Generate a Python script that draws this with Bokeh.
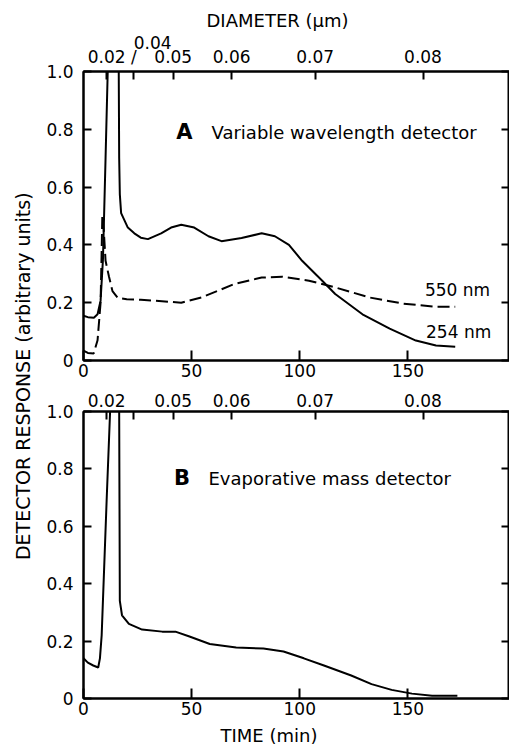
from math import pi
from bokeh.plotting import figure
from bokeh.layouts import row, column
from bokeh.models import LinearAxis, FixedTicker, Title, Range1d
from bokeh.core.properties import value
from bokeh.embed import file_html
from bokeh.resources import INLINE

FONT = "DejaVu Sans"

# ---------------- data ----------------
# Panel A, 254 nm (solid)
a254_time = [0, 2, 4.8, 6.5, 7.9, 9.0, 10.2, 11.2, 11.6, 15.9, 16.3, 16.5, 16.8, 17.4,
             20.5, 23.5, 26.5, 29.8, 35.9, 40.5, 45.2, 51.2, 57.8, 63.8, 73.1, 82.4,
             88.5, 95.0, 101.1, 110.4, 116.4, 129.0, 141.6, 153.7, 163.0, 171.9]
a254_resp = [0.155, 0.150, 0.148, 0.160, 0.207, 0.35, 0.70, 1.00, 1.30, 1.30, 1.00, 0.70,
             0.575, 0.51, 0.46, 0.44, 0.425, 0.42, 0.44, 0.46, 0.47, 0.46, 0.43, 0.413,
             0.424, 0.44, 0.43, 0.40, 0.345, 0.276, 0.23, 0.16, 0.11, 0.069, 0.052, 0.048]

# Panel A, 550 nm (dashed)
a550_time = [0, 2, 4.7, 6.5, 7.9, 8.4, 8.7, 9.3, 10.2, 11.8, 13.4, 15.8, 20.0, 26.5,
             32.6, 45.2, 54.5, 69.9, 82.4, 91.8, 104.3, 116.4, 132.3, 147.6, 163.0, 171.9]
a550_resp = [0.034, 0.026, 0.024, 0.07, 0.20, 0.38, 0.50, 0.46, 0.345, 0.29, 0.24, 0.217,
             0.212, 0.210, 0.207, 0.200, 0.218, 0.265, 0.287, 0.290, 0.276, 0.253, 0.218,
             0.197, 0.186, 0.186]

# Panel B, evaporative mass detector
b_time = [0, 2, 4.5, 6.8, 7.6, 8.4, 10.7, 12.3, 12.6, 16.2, 16.5, 16.8, 17.8, 21.0,
          27.1, 36.4, 42.5, 49.0, 58.4, 70.6, 83.2, 92.5, 101.9, 111.2, 123.8, 133.2,
          142.5, 151.9, 161.2, 172.9]
b_resp = [0.14, 0.125, 0.115, 0.108, 0.14, 0.22, 0.69, 1.00, 1.10, 1.10, 1.00, 0.34,
          0.29, 0.26, 0.24, 0.233, 0.233, 0.216, 0.19, 0.178, 0.174, 0.164, 0.14, 0.115,
          0.08, 0.05, 0.03, 0.017, 0.01, 0.01]

time_ticks = [0, 50, 100, 150]
time_labels = ["0", "50", "100", "150"]
resp_ticks = [0, 0.2, 0.4, 0.6, 0.8, 1.0]
resp_labels = ["0", "0.2", "0.4", "0.6", "0.8", "1.0"]
diam_ticks = [10.7, 23.3, 41.5, 68.5, 107.1, 157.0]
diam_labels_a = ["0.02", "/", "0.05", "0.06", "0.07", "0.08"]
diam_labels_b = ["0.02", "", "0.05", "0.06", "0.07", "0.08"]
# the "0.04" label of panel A sits above the "/" pointer
diam04_pos = [32.0]
diam04_label = ["0.04"]

X_MAX = 197


def axis(ticks, labels, standoff, size="17px", tick_in=8, line=True):
    ax = LinearAxis(ticker=FixedTicker(ticks=ticks, minor_ticks=[]))
    ax.major_label_overrides = {t: l for t, l in zip(ticks, labels)}
    ax.major_tick_in = tick_in
    ax.major_tick_out = 0
    ax.minor_tick_in = 0
    ax.minor_tick_out = 0
    ax.axis_line_width = 2
    ax.axis_line_color = "black" if line else None
    ax.major_tick_line_width = 2
    ax.major_tick_line_color = "black" if line else None
    ax.major_label_text_font = FONT
    ax.major_label_text_font_size = size
    ax.major_label_text_color = "black"
    ax.major_label_standoff = standoff
    return ax


def panel(height, top, bottom, diam_labels):
    p = figure(width=471, height=height, x_range=Range1d(0, X_MAX), y_range=Range1d(0, 1.0),
               output_backend="svg", toolbar_location=None,
               x_axis_location=None, y_axis_location=None,
               min_border_left=45, min_border_right=0,
               min_border_top=top, min_border_bottom=bottom)
    p.grid.visible = False
    p.outline_line_color = "black"
    p.outline_line_width = 2
    p.add_layout(axis(time_ticks, time_labels, 3, tick_in=10), "below")
    p.add_layout(axis(diam_ticks, diam_labels, 5), "above")
    p.add_layout(axis(resp_ticks, resp_labels, 10), "left")
    p.add_layout(axis(resp_ticks, [""] * len(resp_ticks), 0, size="1px"), "right")
    return p


# ---------------- panel A ----------------
pa = panel(385, 71, 25, diam_labels_a)
pa.add_layout(axis(diam04_pos, diam04_label, -5, tick_in=0, line=False), "above")
pa.title = Title(text="DIAMETER  (µm)", align="left", offset=123, text_font=FONT,
                 text_font_size="18px", text_font_style="normal", vertical_align="top",
                 standoff=0, text_color="black")
pa.title_location = "above"
pa.line(a254_time, a254_resp, line_color="black", line_width=2)
pa.line(a550_time, a550_resp, line_color="black", line_width=2, line_dash="12 5")
pa.text(x=[42.9], y=[0.79], text=["A"], text_font=value(FONT), text_font_size="21px",
        text_font_style="bold", text_baseline="middle", text_align="left")
pa.text(x=[59.2], y=[0.79], text=["Variable wavelength detector"], text_font=value(FONT),
        text_font_size="18px", text_baseline="middle", text_align="left")
pa.text(x=[157.9], y=[0.245], text=["550 nm"], text_font=value(FONT), text_font_size="17px",
        text_baseline="middle", text_align="left")
pa.text(x=[158.4], y=[0.097], text=["254 nm"], text_font=value(FONT), text_font_size="17px",
        text_baseline="middle", text_align="left")

# ---------------- panel B ----------------
pb = panel(365, 26, 52, diam_labels_b)
pb.title = Title(text="TIME  (min)", align="left", offset=137, text_font=FONT,
                 text_font_size="18px", text_font_style="normal", vertical_align="bottom",
                 standoff=10, text_color="black")
pb.title_location = "below"
pb.line(b_time, b_resp, line_color="black", line_width=2)
pb.text(x=[41.9], y=[0.767], text=["B"], text_font=value(FONT), text_font_size="21px",
        text_font_style="bold", text_baseline="middle", text_align="left")
pb.text(x=[57.8], y=[0.767], text=["Evaporative mass detector"], text_font=value(FONT),
        text_font_size="18px", text_baseline="middle", text_align="left")

# ---------------- shared y label ----------------
pl = figure(width=38, height=750, x_range=Range1d(0, 1), y_range=Range1d(0, 1),
            output_backend="svg", toolbar_location=None,
            x_axis_location=None, y_axis_location=None, min_border=0)
pl.grid.visible = False
pl.outline_line_color = None
pl.text(x=[0.58], y=[0.503], text=["DETECTOR RESPONSE  (arbitrary units)"], angle=pi / 2,
        text_font=value(FONT), text_font_size="19px", text_align="center",
        text_baseline="middle")

layout = row(pl, column(pa, pb))
open("out.html", "w").write(file_html(layout, INLINE))
